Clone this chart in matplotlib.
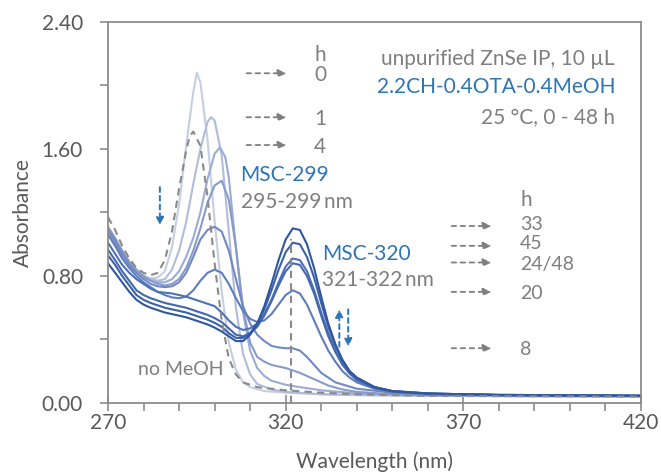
import matplotlib
matplotlib.use("Agg")
import matplotlib.pyplot as plt
from matplotlib.ticker import MultipleLocator, FixedLocator, FormatStrFormatter

plt.rcParams['font.family'] = ['Lato', 'DejaVu Sans']

# ─── DATA ───────────────────────────────────────────────────────────────────
wl_nomeoh = [270, 272, 274, 276, 278, 280, 282, 284, 286, 288, 290, 292, 293, 294, 296,
             298, 300, 302, 304, 306, 308, 312, 316, 320, 330, 340, 360, 420]
ab_nomeoh = [1.17, 1.09, 0.99, 0.91, 0.85, 0.82, 0.805, 0.82, 0.90, 1.08, 1.35, 1.59, 1.68, 1.71, 1.62,
             1.30, 0.88, 0.52, 0.28, 0.18, 0.13, 0.10, 0.09, 0.08, 0.065, 0.055, 0.045, 0.04]

wl_0h = [270, 272, 274, 276, 278, 280, 282, 284, 286, 288, 290, 292, 294, 295, 296, 298,
         300, 302, 304, 306, 308, 310, 314, 320, 330, 340, 360, 420]
ab_0h = [1.10, 1.03, 0.95, 0.88, 0.83, 0.80, 0.785, 0.79, 0.83, 0.98, 1.25, 1.62, 1.96, 2.08, 2.02, 1.66,
         1.15, 0.70, 0.38, 0.21, 0.13, 0.10, 0.075, 0.065, 0.055, 0.05, 0.045, 0.04]

wl_1h = [270, 272, 274, 276, 278, 280, 282, 284, 286, 288, 290, 292, 294, 296, 298, 299,
         300, 302, 304, 306, 308, 310, 312, 316, 320, 330, 340, 360, 420]
ab_1h = [1.08, 1.01, 0.94, 0.88, 0.83, 0.80, 0.78, 0.77, 0.78, 0.84, 0.96, 1.14, 1.38, 1.60, 1.77, 1.80,
         1.78, 1.56, 1.08, 0.60, 0.31, 0.18, 0.12, 0.085, 0.07, 0.055, 0.05, 0.045, 0.04]

wl_4h = [270, 272, 274, 276, 278, 280, 282, 284, 286, 288, 290, 292, 294, 296, 298, 300, 301.5,
         303, 304, 306, 308, 310, 312, 314, 316, 320, 324, 330, 340, 360, 420]
ab_4h = [1.07, 1.00, 0.93, 0.87, 0.82, 0.79, 0.77, 0.76, 0.76, 0.78, 0.83, 0.92, 1.04, 1.20, 1.41, 1.57, 1.61,
         1.55, 1.42, 0.98, 0.57, 0.33, 0.22, 0.17, 0.14, 0.115, 0.10, 0.08, 0.06, 0.05, 0.042]

wl_6h = [270, 272, 274, 276, 278, 280, 282, 284, 286, 288, 290, 292, 294, 296, 298, 300, 302,
         304, 306, 308, 310, 312, 314, 316, 320, 324, 328, 332, 336, 340, 350, 360, 420]
ab_6h = [1.11, 1.04, 0.96, 0.89, 0.84, 0.80, 0.77, 0.75, 0.74, 0.75, 0.78, 0.85, 0.96, 1.10, 1.26, 1.37, 1.40,
         1.28, 0.98, 0.60, 0.38, 0.29, 0.26, 0.24, 0.22, 0.19, 0.15, 0.11, 0.085, 0.07, 0.055, 0.05, 0.045]

wl_8h = [270, 272, 274, 276, 278, 280, 282, 284, 286, 288, 290, 292, 294, 296, 298, 300, 302, 304,
         306, 308, 310, 312, 314, 316, 318, 320, 322, 324, 326, 328, 330, 334, 340, 350, 360, 420]
ab_8h = [1.09, 1.02, 0.94, 0.87, 0.82, 0.78, 0.75, 0.735, 0.73, 0.735, 0.76, 0.82, 0.92, 1.03, 1.09, 1.11, 1.08, 0.96,
         0.78, 0.61, 0.50, 0.43, 0.39, 0.36, 0.35, 0.345, 0.345, 0.33, 0.29, 0.24, 0.19, 0.13, 0.09, 0.065, 0.055, 0.045]

wl_20h = [270, 272, 274, 276, 278, 280, 282, 284, 286, 288, 290, 292, 294, 296, 298, 300, 302, 304, 306, 308,
          310, 312, 314, 316, 318, 320, 322, 324, 326, 328, 330, 332, 334, 336, 338, 340, 345, 350, 360, 420]
ab_20h = [1.06, 0.99, 0.91, 0.85, 0.80, 0.76, 0.73, 0.70, 0.68, 0.665, 0.66, 0.67, 0.71, 0.77, 0.82, 0.84, 0.82, 0.75, 0.66, 0.58,
          0.53, 0.51, 0.52, 0.56, 0.62, 0.68, 0.71, 0.69, 0.62, 0.52, 0.42, 0.33, 0.26, 0.20, 0.16, 0.13, 0.09, 0.07, 0.055, 0.045]

# late curves share one wavelength grid
wl_late = [270, 272, 274, 276, 278, 280, 282, 284, 286, 288, 290, 292, 294, 296, 298, 300, 302, 304, 306, 308,
           310, 312, 314, 316, 318, 320, 322, 324, 326, 328, 330, 332, 334, 336, 338, 340, 345, 350, 360, 380, 420]
ab_24h = [1.01, 0.94, 0.87, 0.82, 0.78, 0.75, 0.72, 0.70, 0.695, 0.69, 0.68, 0.67, 0.655, 0.64, 0.625, 0.61, 0.57, 0.52, 0.48, 0.46,
          0.47, 0.50, 0.56, 0.65, 0.76, 0.86, 0.91, 0.90, 0.83, 0.71, 0.57, 0.44, 0.33, 0.25, 0.19, 0.15, 0.10, 0.075, 0.06, 0.05, 0.045]
ab_33h = [0.88, 0.82, 0.76, 0.70, 0.65, 0.62, 0.60, 0.585, 0.57, 0.56, 0.55, 0.54, 0.525, 0.51, 0.495, 0.475, 0.45, 0.42, 0.39, 0.39,
          0.43, 0.50, 0.61, 0.75, 0.90, 1.03, 1.10, 1.09, 1.00, 0.85, 0.67, 0.50, 0.37, 0.27, 0.20, 0.16, 0.10, 0.075, 0.06, 0.05, 0.045]
ab_45h = [0.93, 0.87, 0.80, 0.74, 0.68, 0.65, 0.63, 0.615, 0.60, 0.59, 0.58, 0.57, 0.555, 0.54, 0.525, 0.505, 0.48, 0.44, 0.41, 0.41,
          0.44, 0.50, 0.59, 0.71, 0.84, 0.95, 1.01, 1.00, 0.92, 0.79, 0.63, 0.48, 0.36, 0.27, 0.20, 0.16, 0.10, 0.075, 0.06, 0.05, 0.045]
ab_48h = [0.965, 0.90, 0.83, 0.77, 0.71, 0.68, 0.66, 0.645, 0.63, 0.62, 0.61, 0.60, 0.585, 0.57, 0.555, 0.535, 0.51, 0.47, 0.43, 0.42,
          0.44, 0.48, 0.55, 0.64, 0.74, 0.83, 0.88, 0.87, 0.80, 0.69, 0.55, 0.42, 0.32, 0.24, 0.185, 0.145, 0.095, 0.072, 0.058, 0.05, 0.045]

series = [
    (wl_0h, ab_0h, '#c6cee2'),
    (wl_1h, ab_1h, '#b0bcda'),
    (wl_4h, ab_4h, '#9cabd3'),
    (wl_6h, ab_6h, '#879bcb'),
    (wl_8h, ab_8h, '#7189c3'),
    (wl_20h, ab_20h, '#5f7dbc'),
    (wl_late, ab_24h, '#4e70b5'),
    (wl_late, ab_48h, '#4468af'),
    (wl_late, ab_45h, '#3b61a9'),
    (wl_late, ab_33h, '#2f57a0'),
]

x_major = [270, 320, 370, 420]
x_minor = [280, 290, 300, 310, 330, 340, 350, 360, 380, 390, 400, 410]

# time markers: hour label, arrow level, text level
top_hours = ['0', '1', '4']
top_levels = [2.077, 1.80, 1.625]
right_hours = ['33', '45', '24/48', '20', '8']
right_levels = [1.115, 0.99, 0.885, 0.70, 0.345]
right_text_y = [1.125, 1.005, 0.875, 0.69, 0.335]

GRAY = '#7f7f7f'
TICK = '#595959'
BLUE = '#2e75b6'
SPINE = '#8c8c8c'
FS = 15

fig = plt.figure(figsize=(6.61, 4.72), dpi=100)
ax = fig.add_axes([0.1634, 0.1462, 0.8063, 0.8072])

for wl, ab, c in series:
    ax.plot(wl, ab, color=c, lw=1.5, solid_capstyle='round')
ax.plot(wl_nomeoh, ab_nomeoh, color='#8a8a8a', lw=1.5, ls=(0, (3.5, 2.5)))

# marker line at 322 nm
ax.plot([321.6, 321.6], [0.0, 1.03], color='#8a8a8a', lw=1.5, ls=(0, (3.5, 2.5)))

ax.set_xlim(270, 420)
ax.set_ylim(0, 2.40)
ax.xaxis.set_major_locator(FixedLocator(x_major))
ax.xaxis.set_minor_locator(FixedLocator(x_minor))
ax.yaxis.set_major_locator(MultipleLocator(0.8))
ax.yaxis.set_minor_locator(MultipleLocator(0.4))
ax.yaxis.set_major_formatter(FormatStrFormatter('%.2f'))

ax.tick_params(axis='x', which='major', direction='inout', length=11, width=1.2, color=SPINE,
               labelsize=FS, labelcolor=TICK, pad=2)
ax.tick_params(axis='x', which='minor', direction='out', length=5.5, width=1.2, color=SPINE)
ax.tick_params(axis='y', which='both', direction='out', length=6, width=1.2, color=SPINE,
               labelsize=FS, labelcolor=TICK, pad=12)
for sp in ax.spines.values():
    sp.set_edgecolor(SPINE)
    sp.set_linewidth(1.3)

ax.set_xlabel('Wavelength (nm)', color=TICK, fontsize=FS, labelpad=13)
ax.set_ylabel('Absorbance', color=TICK, fontsize=FS, labelpad=6)

# gray dashed pointer arrows
def pointer(x0, x1, y):
    ax.annotate('', xy=(x1, y), xytext=(x0, y),
                arrowprops=dict(arrowstyle='-|>,head_length=0.5,head_width=0.22',
                                color=GRAY, lw=1.3, ls=(0, (2.5, 2.5)), shrinkA=0, shrinkB=0))

ax.text(329.7, 2.19, 'h', color=GRAY, fontsize=FS, ha='center', va='center')
for h, lv in zip(top_hours, top_levels):
    pointer(309.0, 320.3, lv)
    ax.text(329.7, lv - 0.01, h, color=GRAY, fontsize=FS, ha='center', va='center')

ax.text(386.0, 1.28, 'h', color=GRAY, fontsize=FS, ha='left', va='center')
for h, lv, ty in zip(right_hours, right_levels, right_text_y):
    pointer(366.7, 378.0, lv)
    ax.text(386.0, ty, h, color=GRAY, fontsize=14, ha='left', va='center')

ax.text(412.7, 2.17, 'unpurified ZnSe IP, 10 µL', color=GRAY, fontsize=FS, ha='right', va='center')
ax.text(412.7, 1.99, '2.2CH-0.4OTA-0.4MeOH', color=BLUE, fontsize=FS, ha='right', va='center')
ax.text(412.7, 1.80, '25 °C, 0 - 48 h', color=GRAY, fontsize=FS, ha='right', va='center')

ax.text(307.3, 1.436, 'MSC-299', color=BLUE, fontsize=FS, ha='left', va='center')
ax.text(307.3, 1.268, '295-299\u2009nm', color=GRAY, fontsize=FS, ha='left', va='center')
ax.text(330.3, 0.939, 'MSC-320', color=BLUE, fontsize=FS, ha='left', va='center')
ax.text(330.3, 0.775, '321-322\u2009nm', color=GRAY, fontsize=FS, ha='left', va='center')
ax.text(278.5, 0.212, 'no MeOH', color=GRAY, fontsize=14, ha='left', va='center')

# blue dashed trend arrows
def trend(x, y0, y1):
    ax.annotate('', xy=(x, y1), xytext=(x, y0),
                arrowprops=dict(arrowstyle='-|>,head_length=0.45,head_width=0.22',
                                color=BLUE, lw=1.4, ls=(0, (2.5, 2)), shrinkA=0, shrinkB=0))

trend(284.6, 1.36, 1.12)
trend(335.1, 0.355, 0.59)
trend(337.6, 0.59, 0.355)

fig.savefig('out.png', dpi=100, facecolor='white')
